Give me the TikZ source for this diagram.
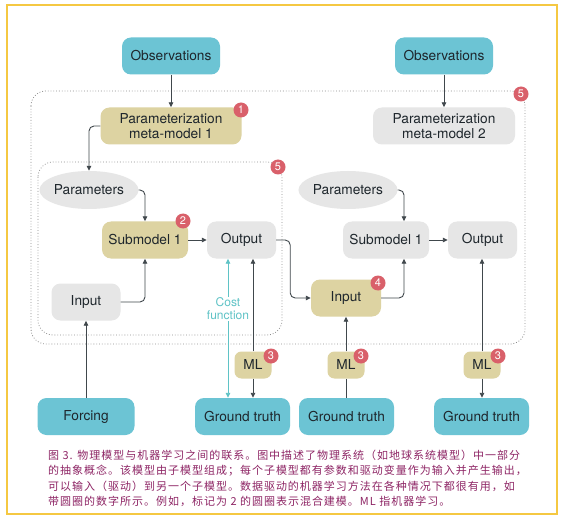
\documentclass[tikz,border=0pt]{standalone}
\usepackage{fontspec}
\setmainfont{TeX Gyre Heros}
\newfontfamily\cjkfont[LetterSpace=9]{Noto Sans CJK SC}
\usepackage{tikz}
\usetikzlibrary{arrows.meta,shapes.geometric}
\definecolor{skyblue}{HTML}{6CC4D4}
\definecolor{sand}{HTML}{DDD3A2}
\definecolor{pale}{HTML}{E6E6E6}
\definecolor{badgered}{HTML}{D9606A}
\definecolor{plum}{HTML}{8E2565}
\definecolor{framegold}{HTML}{F5C842}
\definecolor{costteal}{HTML}{5FC3C6}
\definecolor{ink}{HTML}{1E262C}

\begin{document}
\begin{tikzpicture}[x=1pt,y=-1pt,
  box/.style={rectangle,rounded corners=9pt,inner sep=0pt,minimum height=37pt,align=center,font=\fontsize{13.7}{14.7}\selectfont,text=ink},
  obsbox/.style={box,fill=skyblue},
  sandbox/.style={box,fill=sand},
  palebox/.style={box,fill=pale},
  oval/.style={ellipse,fill=pale,inner sep=0pt,minimum height=38pt,font=\fontsize{13.7}{14.7}\selectfont,text=ink},
  badge/.style={circle,fill=badgered,text=white,inner sep=0pt,minimum size=15pt,font=\fontsize{11}{11}\selectfont},
  wire/.style={-{Triangle[length=5pt,width=4.5pt]},line width=0.9pt,draw=ink!85,rounded corners=5pt},
  link/.style={line width=0.9pt,draw=ink!85},
  costwire/.style={{Triangle[length=5pt,width=4.5pt]}-{Triangle[length=5pt,width=4.5pt]},line width=0.9pt,draw=costteal},
  zone/.style={draw=black!45,dotted,line width=0.8pt,rounded corners=15pt}]
\useasboundingbox (0,0) rectangle (564,521);
\fill[white] (0,0) rectangle (564,521);
\draw[framegold,line width=2pt] (7,5) rectangle (557,514);

% dotted groups
\draw[zone] (31,91) rectangle (525,344);
\draw[zone] (38,162) rectangle (282,335);

% top row
\node[obsbox,minimum width=98pt] (obs1) at (171,56) {Observations};
\node[obsbox,minimum width=98pt] (obs2) at (444,56) {Observations};
\node[sandbox,minimum width=141pt] (meta1) at (171,126) {Parameterization\\meta-model 1};
\node[palebox,minimum width=142pt] (meta2) at (444,126) {Parameterization\\meta-model 2};

% left submodel
\node[oval,minimum width=92pt] (par1) at (89,190) {Parameters};
\node[sandbox,minimum width=86pt] (sub1) at (145,240) {Submodel 1};
\node[palebox,minimum width=69pt] (out1) at (241.5,240) {Output};
\node[palebox,minimum width=69pt] (in1) at (86,302) {Input};

% right submodel
\node[oval,minimum width=89pt] (par2) at (348,190) {Parameters};
\node[palebox,minimum width=86pt] (sub2) at (386,240) {Submodel 1};
\node[palebox,minimum width=69pt] (out2) at (482.5,240) {Output};
\node[sandbox,minimum width=70pt] (in2) at (346,298) {Input};

% ML and bottom row
\node[sandbox,minimum width=37pt,minimum height=27pt,rounded corners=7pt] (ml1) at (253,365) {ML};
\node[sandbox,minimum width=37pt,minimum height=27pt,rounded corners=7pt] (ml2) at (346,365) {ML};
\node[sandbox,minimum width=37pt,minimum height=27pt,rounded corners=7pt] (ml3) at (482,365) {ML};
\node[obsbox,minimum width=97pt] (forc) at (86,416.5) {Forcing};
\node[obsbox,minimum width=95pt] (gt1) at (242.5,416.5) {Ground truth};
\node[obsbox,minimum width=95pt] (gt2) at (346.5,416.5) {Ground truth};
\node[obsbox,minimum width=95pt] (gt3) at (481.5,416.5) {Ground truth};

% connectors
\draw[wire] (obs1.south) -- (meta1.north);
\draw[wire] (obs2.south) -- (meta2.north);
\draw[wire] (meta1.west) -| (par1.north);
\draw[wire] (par1.east) -| (sub1.north);
\draw[wire] (in1.east) -| (sub1.south);
\draw[wire] (sub1.east) -- (out1.west);
\draw[wire] (out1.east) -- ++(14,0) |- (in2.west);
\draw[wire] (par2.east) -| ([xshift=18pt]sub2.north);
\draw[wire] (in2.east) -| ([xshift=18pt]sub2.south);
\draw[wire] (sub2.east) -- (out2.west);
\draw[wire] (forc.north) -- (forc.north |- in1.south);
\draw[wire] (ml1.north) -- (ml1.north |- out1.south);
\draw[wire] (ml1.south) -- (ml1.south |- gt1.north);
\draw[link] (gt2.north) -- (gt2.north |- ml2.south);
\draw[wire] (ml2.north) -- (ml2.north |- in2.south);
\draw[wire] (ml3.north) -- (ml3.north |- out2.south);
\draw[wire] (ml3.south) -- (ml3.south |- gt3.north);
\coordinate (costx) at (228,0);
\draw[costwire] (costx |- out1.south) -- node[pos=0.36,fill=white,inner sep=1pt,align=center,text=costteal,font=\fontsize{12}{12.5}\selectfont] (cost) {Cost\\function} (costx |- gt1.north);

% numbered badges
\node[badge] (b1) at (241,110) {1};
\node[badge] (b2) at (183,221) {2};
\node[badge] (b3a) at (271,356) {3};
\node[badge] (b3b) at (361,356) {3};
\node[badge] (b3c) at (498,356) {3};
\node[badge] (b4) at (378,283) {4};
\node[badge] (b5a) at (278,167) {5};
\node[badge] (b5b) at (521,94) {5};

% caption
\node[anchor=north west,align=left,inner sep=0pt,text=plum,font=\cjkfont\fontsize{11}{15.3}\selectfont] (caption) at (48,450) {图 3. 物理模型与机器学习之间的联系。图中描述了物理系统（如地球系统模型）中一部分\\的抽象概念。该模型由子模型组成；每个子模型都有参数和驱动变量作为输入并产生输出，\\可以输入（驱动）到另一个子模型。数据驱动的机器学习方法在各种情况下都很有用，如\\带圆圈的数字所示。例如，标记为 2 的圆圈表示混合建模。ML 指机器学习。};
\end{tikzpicture}
\end{document}
